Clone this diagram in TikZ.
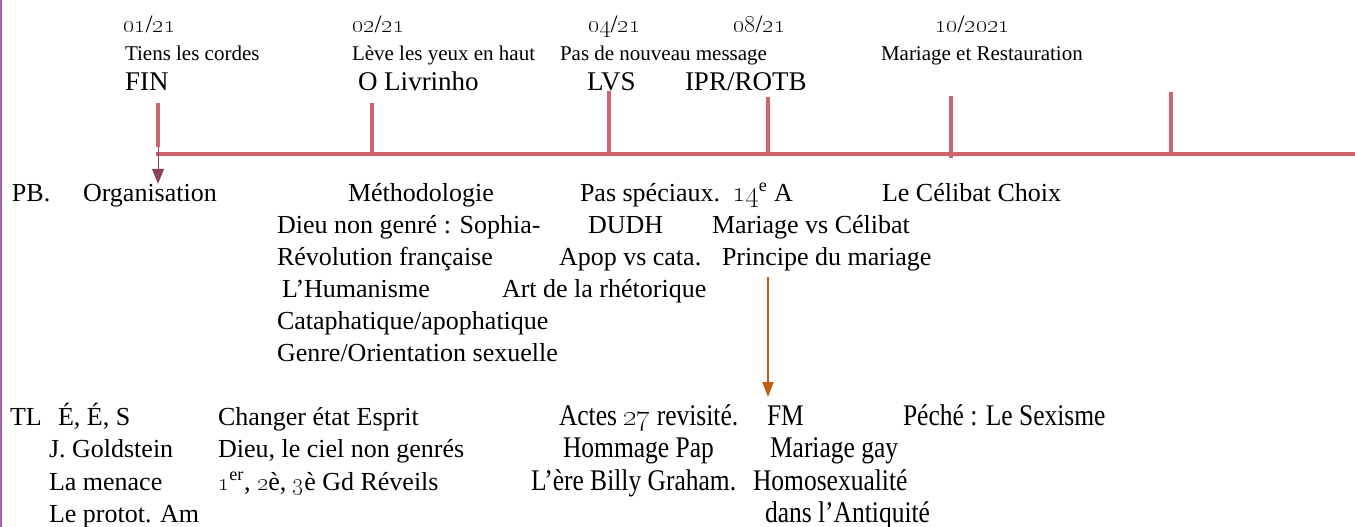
\documentclass[tikz,border=0pt]{standalone}
\usepackage{fontspec}
\setmainfont{Liberation Serif}
\newfontfamily\condfont[FakeStretch=0.85]{Liberation Serif}
\newcommand\osf[1]{{\fontencoding{TS1}\fontfamily{lmr}\selectfont\special{pdf:literal direct 2 Tr 0.6 w}#1\special{pdf:literal direct 0 Tr}}}
\usetikzlibrary{arrows.meta}
\definecolor{tlred}{RGB}{208,100,110}
\definecolor{borderpurple}{RGB}{160,100,170}
\definecolor{maroon}{RGB}{140,64,90}
\definecolor{orangearrow}{RGB}{197,90,17}
\tikzset{
  txt/.style={anchor=base west, inner sep=0pt, outer sep=0pt, font=\fontsize{26}{26}\selectfont},
  bigtxt/.style={txt, font=\fontsize{27}{27}\selectfont},
  smalltxt/.style={txt, font=\fontsize{21}{21}\selectfont},
  datetxt/.style={txt, font=\fontsize{25}{25}\selectfont},
  condtxt/.style={txt, font=\condfont\fontsize{30}{30}\selectfont},
  tickline/.style={draw=tlred, line width=4pt},
  axisline/.style={draw=tlred, line width=4pt},
  darrow/.style={draw=maroon, line width=1pt, -{Triangle[width=12pt,length=15pt]}},
  oarrow/.style={draw=orangearrow, line width=1.5pt, -{Triangle[width=11pt,length=15pt]}},
}
\begin{document}
\begin{tikzpicture}[x=1pt,y=-1pt]
\useasboundingbox (0,0) rectangle (1355,527);
% left border
\coordinate (bt) at (1,0);
\coordinate (bb) at (1,527);
\draw[draw=borderpurple, line width=2.5pt] (bt) -- (bb);

% timeline
\coordinate (axL) at (156,154);
\coordinate (axR) at (1356,154);
\draw[axisline] (axL) -- (axR);
\coordinate (t1a) at (158,103); \coordinate (t1b) at (158,147);
\coordinate (t2a) at (372,103); \coordinate (t2b) at (372,155);
\coordinate (t3a) at (609,91);  \coordinate (t3b) at (609,155);
\coordinate (t4a) at (768,97);  \coordinate (t4b) at (768,155);
\coordinate (t5a) at (951,96);  \coordinate (t5b) at (951,158);
\coordinate (t6a) at (1171,92); \coordinate (t6b) at (1171,155);
\foreach \i in {1,...,6} \draw[tickline] (t\i a) -- (t\i b);

% top labels
\node[datetxt] (d1) at (123,33) {\osf{01}/\osf{21}};
\node[smalltxt] (s1) at (125,60) {Tiens les cordes};
\node[bigtxt] (b1) at (125,91) {FIN};
\node[datetxt] (d2) at (352,33) {\osf{02}/\osf{21}};
\node[smalltxt] (s2) at (352,60) {Lève les yeux en haut};
\node[bigtxt] (b2) at (358,91) {O Livrinho};
\node[datetxt] (d3) at (588,33) {\osf{04}/\osf{21}};
\node[smalltxt] (s3) at (560,60) {Pas de nouveau message};
\node[bigtxt] (b3) at (587,91) {LVS};
\node[datetxt] (d4) at (733,33) {\osf{08}/\osf{21}};
\node[bigtxt] (b4) at (685,91) {IPR/ROTB};
\node[datetxt] (d5) at (935,33) {\osf{10}/\osf{2021}};
\node[smalltxt] (s5) at (881,60) {Mariage et Restauration};

% PB section
\node[txt] (pb) at (12,201) {PB.};
\node[txt] (org) at (83,201) {Organisation};
\node[txt] (meth) at (348,201) {Méthodologie};
\node[txt] (dieu) at (277,233) {Dieu non genré : Sophia-};
\node[txt] (rev) at (277,265) {Révolution française};
\node[txt] (hum) at (282,297) {L’Humanisme};
\node[txt] (cata) at (277,329) {Cataphatique/apophatique};
\node[txt] (genre) at (277,361) {Genre/Orientation sexuelle};
\node[txt] (pas) at (580,201) {Pas spéciaux.};
\node[txt] (quat) at (732,201) {{\fontsize{30}{30}\selectfont\osf{14}}\textsuperscript{e} A};
\node[txt] (dudh) at (588,233) {DUDH};
\node[txt] (apop) at (559,265) {Apop vs cata.};
\node[txt] (art) at (502,297) {Art de la rhétorique};
\node[txt] (mvc) at (712,233) {Mariage vs Célibat};
\node[txt] (pdm) at (722,265) {Principe du mariage};
\node[txt] (celib) at (882,201) {Le Célibat Choix};

% TL section
\node[txt] (tl) at (10,425) {TL};
\node[txt] (ees) at (58,425) {É, É, S};
\node[txt] (gold) at (49,457) {J. Goldstein};
\node[txt] (men) at (49,490) {La menace};
\node[txt] (prot) at (49,522) {Le protot. Am};
\node[txt] (chg) at (218,425) {Changer état Esprit};
\node[txt] (ciel) at (218,457) {Dieu, le ciel non genrés};
\node[txt] (rvl) at (218,490) {\osf{1}\textsuperscript{er}, \osf{2}è, \osf{3}è Gd Réveils};
\node[condtxt] (act) at (559,425) {Actes \osf{27} revisité.};
\node[condtxt] (hom) at (563,457) {Hommage Pap};
\node[condtxt] (bill) at (531,490) {L’ère Billy Graham.};
\node[condtxt] (fm) at (767,425) {FM};
\node[condtxt] (mg) at (770,457) {Mariage gay};
\node[condtxt] (homo) at (753,490) {Homosexualité};
\node[condtxt] (anti) at (765,522) {dans l’Antiquité};
\node[condtxt] (sex) at (903,425) {Péché : Le Sexisme};

% arrows
\draw[darrow] (t1b) -- (t1b |- org.north);
\coordinate (oa) at (768,277);
\coordinate (ob) at (768,397);
\draw[oarrow] (oa) -- (ob);
\end{tikzpicture}
\end{document}
